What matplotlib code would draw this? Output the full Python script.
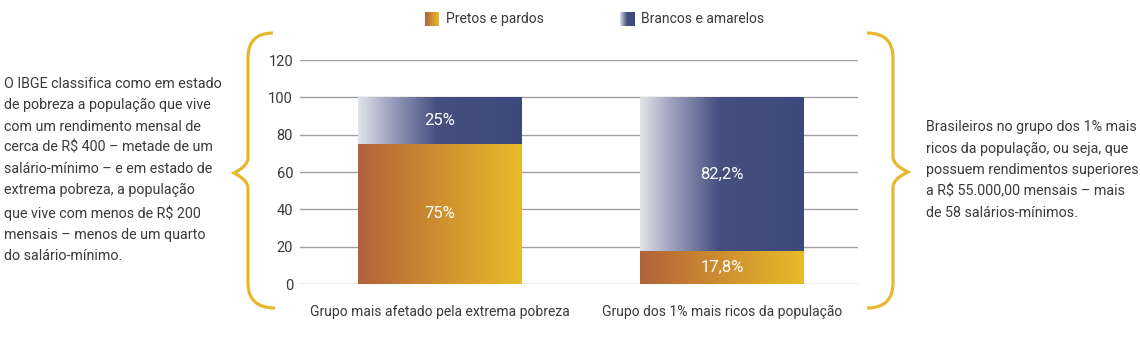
import numpy as np
import matplotlib
matplotlib.use("Agg")
from matplotlib import pyplot as plt
from matplotlib.path import Path
from matplotlib.patches import PathPatch
from matplotlib.colors import LinearSegmentedColormap

plt.rcParams['font.family'] = ['Roboto', 'DejaVu Sans']

# data
groups = ["Grupo mais afetado pela extrema pobreza", "Grupo dos 1% mais ricos da população"]
pretos = [75.0, 17.8]
brancos = [25.0, 82.2]
pretosLabels = ["75%", "17,8%"]
brancosLabels = ["25%", "82,2%"]
seriesNames = ["Pretos e pardos", "Brancos e amarelos"]
yTicks = [0, 20, 40, 60, 80, 100, 120]

leftNote = ("O IBGE classifica como em estado\nde pobreza a população que vive\n"
            "com um rendimento mensal de\ncerca de R$ 400 – metade de um\n"
            "salário-mínimo – e em estado de\nextrema pobreza, a população\n"
            "que vive com menos de R$ 200\nmensais – menos de um quarto\ndo salário-mínimo.")
rightNote = ("Brasileiros no grupo dos 1% mais\nricos da população, ou seja, que\n"
             "possuem rendimentos superiores\na R$ 55.000,00 mensais – mais\n"
             "de 58 salários-mínimos.")

textColor = "#3a3a3a"
gold = "#e8b82c"
orangeMap = LinearSegmentedColormap.from_list("orange", ["#b1623a", "#cf8f30", "#e9bb2a"])
blueMap = LinearSegmentedColormap.from_list("blue", [(0, "#e2e3e9"), (0.2, "#9aa0bd"), (0.48, "#45507f"), (1, "#3d497b")])

W, H = 1140, 340
fig = plt.figure(figsize=(W / 100, H / 100), dpi=100)
ax = fig.add_axes([300 / W, 1 - 284 / H, 558 / W, 224 / H])

x = np.arange(len(groups))
barWidth = 0.58
gradient = np.linspace(0, 1, 256).reshape(1, -1)

pretosBars = ax.bar(x, pretos, width=barWidth, color="none", zorder=3)
brancosBars = ax.bar(x, brancos, width=barWidth, bottom=pretos, color="none", zorder=3)

def fillGradient(bars, cmap):
    for bar in bars:
        x0, y0 = bar.get_x(), bar.get_y()
        im = ax.imshow(gradient, cmap=cmap, aspect='auto', zorder=3,
                       extent=[x0, x0 + bar.get_width(), y0, y0 + bar.get_height()])
        im.set_clip_path(bar)

fillGradient(pretosBars, orangeMap)
fillGradient(brancosBars, blueMap)

for i in range(len(groups)):
    ax.text(x[i], pretos[i] / 2, pretosLabels[i], ha='center', va='center', color='white', fontsize=12, zorder=4)
    ax.text(x[i], pretos[i] + brancos[i] / 2, brancosLabels[i], ha='center', va='center', color='white', fontsize=12, zorder=4)

ax.set_xlim(-0.496, 1.482)
ax.set_ylim(0, 120)
ax.set_yticks(yTicks)
ax.set_yticklabels([str(t) for t in yTicks], fontsize=10.5, color=textColor)
ax.set_xticks(x)
ax.set_xticklabels(groups, fontsize=10, color=textColor)
ax.tick_params(length=0, pad=5)
ax.tick_params(axis='x', pad=15)
for t in yTicks:
    ax.axhline(t, color="#a0a0a0", lw=1.0, zorder=1)
for s in ax.spines.values():
    s.set_visible(False)

# legend
for name, cmap, lx in [(seriesNames[0], orangeMap, 425), (seriesNames[1], blueMap, 620)]:
    lax = fig.add_axes([lx / W, 1 - 26 / H, 14 / W, 14 / H])
    lax.imshow(gradient, cmap=cmap, aspect='auto')
    lax.axis('off')
    fig.text((lx + 21) / W, 1 - 19 / H, name, fontsize=10, color=textColor, va='center', ha='left')

# braces, in pixel coordinates
def brace(points):
    verts = [(px / W, 1 - py / H) for px, py in points]
    codes = [Path.MOVETO, Path.CURVE3, Path.CURVE3, Path.LINETO,
             Path.CURVE3, Path.CURVE3, Path.CURVE3, Path.CURVE3,
             Path.LINETO, Path.CURVE3, Path.CURVE3]
    fig.add_artist(PathPatch(Path(verts, codes), transform=fig.transFigure,
                             fill=False, edgecolor=gold, lw=2.3, capstyle='butt'))

brace([(273, 33), (248, 33), (248, 58), (248, 158), (248, 166), (234, 173),
       (248, 180), (248, 188), (248, 283), (248, 308), (275, 308)])
brace([(867, 33), (893, 33), (893, 58), (893, 157), (893, 165), (908, 172),
       (893, 179), (893, 187), (893, 283), (893, 308), (867, 308)])

fig.text(4 / W, 1 - 77 / H, leftNote, fontsize=10.3, color=textColor, va='top', ha='left', linespacing=1.65)
fig.text(926 / W, 1 - 120 / H, rightNote, fontsize=10.3, color=textColor, va='top', ha='left', linespacing=1.67)

fig.savefig("out.png", dpi=100)
